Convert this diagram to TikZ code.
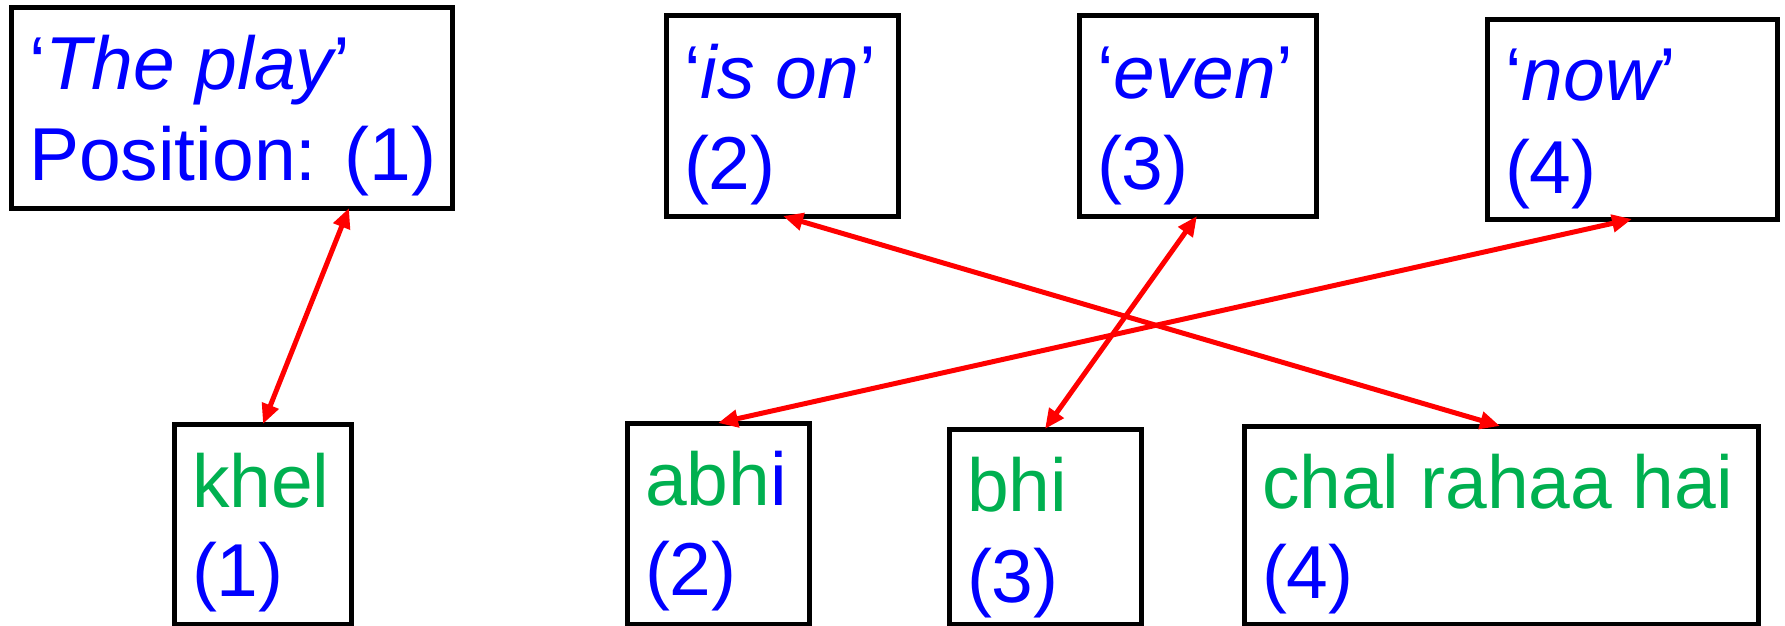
\documentclass[tikz,border=0pt]{standalone}
\usepackage{fontspec}
\setmainfont{Liberation Sans}
\usetikzlibrary{arrows.meta,calc}
\definecolor{wordblue}{RGB}{0,0,255}
\definecolor{wordgreen}{RGB}{0,176,80}
\definecolor{linkred}{RGB}{255,0,0}
\begin{document}
\begin{tikzpicture}[x=1pt,y=-1pt,
  wordbox/.style={draw=black, line width=5pt, rectangle, inner sep=0pt,
    outer sep=0pt, anchor=north west},
  txt/.style={inner sep=0pt, outer sep=0pt, anchor=base west,
    font=\fontsize{75}{91}\selectfont},
  gloss/.style={txt, text=wordblue},
  hindi/.style={txt, text=wordgreen},
  link/.style={draw=linkred, line width=5pt,
    {Triangle[length=20pt,width=17pt]}-{Triangle[length=20pt,width=17pt]}}]
\useasboundingbox (0,0) rectangle (1785,625);

% English words (top row)
\node[wordbox, minimum width=441pt, minimum height=201pt] (en1) at (11,7) {};
\node[wordbox, minimum width=232pt, minimum height=201pt] (en2) at (666,15) {};
\node[wordbox, minimum width=237pt, minimum height=201pt] (en3) at (1079,15) {};
\node[wordbox, minimum width=290pt, minimum height=200pt] (en4) at (1487,19) {};

\node[gloss] (en1a) at ($(en1.north west)+(18,82)$) {‘{\itshape The play}’};
\node[gloss] (en1b) at ($(en1.north west)+(18,173)$) {Position: (1)};
\node[gloss] (en2a) at ($(en2.north west)+(18,83)$) {‘{\itshape is on}’};
\node[gloss] (en2b) at ($(en2.north west)+(18,174)$) {(2)};
\node[gloss] (en3a) at ($(en3.north west)+(18,83)$) {‘{\itshape even}’};
\node[gloss] (en3b) at ($(en3.north west)+(18,174)$) {(3)};
\node[gloss] (en4a) at ($(en4.north west)+(18,81)$) {‘{\itshape now}’};
\node[gloss] (en4b) at ($(en4.north west)+(18,174)$) {(4)};

% Hindi words (bottom row), running past the lower edge
\node[wordbox, minimum width=177pt, minimum height=200pt] (hi1) at (174,424) {};
\node[wordbox, minimum width=182pt, minimum height=201pt] (hi2) at (627,423) {};
\node[wordbox, minimum width=192pt, minimum height=195pt] (hi3) at (949,429) {};
\node[wordbox, minimum width=514pt, minimum height=198pt] (hi4) at (1244,426) {};

\node[hindi] (hi1a) at ($(hi1.north west)+(18,83)$) {khel};
\node[gloss] (hi1b) at ($(hi1.north west)+(18,172)$) {(1)};
\node[hindi] (hi2a) at ($(hi2.north west)+(18,82)$) {abh\textcolor{wordblue}{i}};
\node[gloss] (hi2b) at ($(hi2.north west)+(18,172)$) {(2)};
\node[hindi] (hi3a) at ($(hi3.north west)+(18,82)$) {bhi};
\node[gloss] (hi3b) at ($(hi3.north west)+(18,173)$) {(3)};
\node[hindi] (hi4a) at ($(hi4.north west)+(18,82)$) {chal rahaa hai};
\node[gloss] (hi4b) at ($(hi4.north west)+(18,172)$) {(4)};

% Alignment links
\draw[link] (349,0 |- en1.south) -- (263,0 |- hi1.north);
\draw[link] (783,0 |- en2.south) -- (1500,0 |- hi4.north);
\draw[link] (1197,0 |- en3.south) -- (1045,0 |- hi3.north);
\draw[link] (1632,0 |- en4.south) -- (718,0 |- hi2.north);
\end{tikzpicture}
\end{document}
